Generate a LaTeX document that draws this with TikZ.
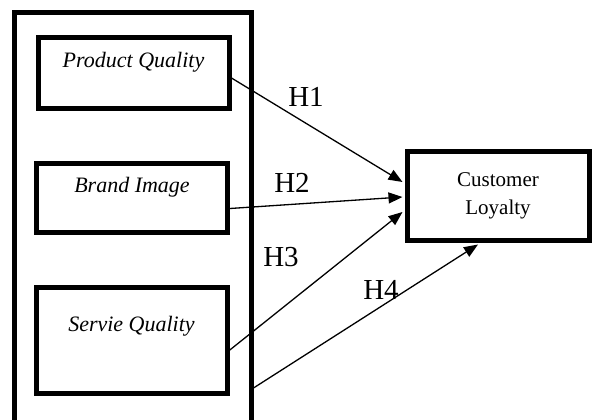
\documentclass[tikz,border=0pt]{standalone}
\usepackage{fontspec}
\setmainfont{Liberation Serif}
\usetikzlibrary{calc,positioning,arrows.meta}

\begin{document}
\begin{tikzpicture}[x=1pt,y=-1pt,>={Triangle[length=14pt,width=11pt]},
  box/.style={draw,line width=5pt,inner sep=0pt},
  link/.style={->,line width=1.3pt},
  hyp/.style={font=\fontsize{29}{29}\selectfont},
  varlab/.style={font=\fontsize{22}{26}\selectfont\itshape}]
\useasboundingbox (0,0) rectangle (592,420);
\node[box,minimum width=236.5pt,minimum height=447.5pt] (grp) at (132.75,236.25) {};
\node[box,minimum width=191pt,minimum height=70pt] (pq) at (133.5,73) {};
\node[box,minimum width=191pt,minimum height=69pt] (bi) at (132,197.5) {};
\node[box,minimum width=191pt,minimum height=106.5pt] (sq) at (131.5,340.25) {};
\node[varlab] (pqtext) at ([yshift=11pt]pq.center) {Product Quality};
\node[varlab] (bitext) at ([yshift=10pt]bi.center) {Brand Image};
\node[varlab] (sqtext) at ([yshift=14pt]sq.center) {Servie Quality};
\node[box,minimum width=182pt,minimum height=89pt,align=center,
  font=\fontsize{21}{28}\selectfont] (cl) at (498,195.5) {Customer\\Loyalty};
\coordinate (h4start) at (253.5,388);
\draw[link] ([yshift=-5pt]pq.east) -- ([xshift=-2pt,yshift=13.5pt]cl.west);
\draw[link] ([yshift=-11pt]bi.east) -- ([xshift=-2pt,yshift=-1.5pt]cl.west);
\draw[link] ([yshift=-10pt]sq.east) -- ([xshift=-2pt,yshift=-16.5pt]cl.west);
\draw[link] (h4start) -- ([xshift=-20pt,yshift=-2pt]cl.south);
\node[hyp] (h1) at (306,97) {H1};
\node[hyp] (h2) at (292,183) {H2};
\node[hyp] (h3) at (281,257) {H3};
\node[hyp] (h4) at (381,290) {H4};
\end{tikzpicture}
\end{document}
